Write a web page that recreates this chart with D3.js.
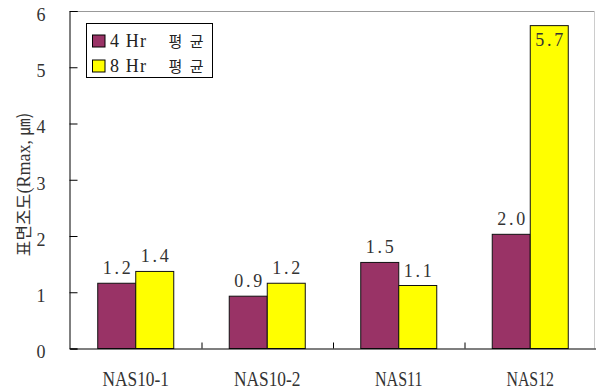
<!DOCTYPE html>
<html>
<head>
<meta charset="utf-8">
<script src="https://cdn.jsdelivr.net/npm/d3@7"></script>
<style>
  html, body { margin: 0; padding: 0; background: #fff; }
  svg { display: block; }
</style>
</head>
<body>
<svg id="chart" width="596" height="390"></svg>
<script>
// Surface roughness by sample, two averaging windows
const categories = ["NAS10-1", "NAS10-2", "NAS11", "NAS12"];
const seriesLabels = ["4 Hr", "8 Hr"];
const seriesSuffix = "평균";
const hr4 = [1.16, 0.93, 1.53, 2.03];
const hr8 = [1.37, 1.16, 1.12, 5.74];
const yTicks = [0, 1, 2, 3, 4, 5, 6];
const colors = ["#993366", "#ffff00"];

const svg = d3.select("#chart");
const m = { left: 70, right: 596, top: 11, bottom: 348.5 };
const serif = "'Liberation Serif', 'DejaVu Serif', serif";
const korean = "'Noto Sans CJK KR', sans-serif";
const charW = 9.5; // fixed advance used for the monospaced-looking labels

const x = d3.scaleBand().domain(categories).range([m.left, m.right]).paddingInner(0).paddingOuter(0);
const inner = d3.scaleBand().domain([0, 1]).range([0, x.bandwidth()]).paddingInner(0).paddingOuter(0.73);
const y = d3.scaleLinear().domain([0, 6]).range([m.bottom, m.top]);

// plot frame (top and right, light gray)
svg.append("line").attr("x1", m.left).attr("x2", m.right - 2).attr("y1", m.top + 0.5).attr("y2", m.top + 0.5)
  .attr("stroke", "#999").attr("stroke-width", 1);
svg.append("line").attr("x1", m.right - 1.5).attr("x2", m.right - 1.5).attr("y1", m.top).attr("y2", m.bottom)
  .attr("stroke", "#ccc").attr("stroke-width", 1);

// bars
const data = [hr4, hr8];
const bars = svg.append("g");
categories.forEach((c, i) => {
  data.forEach((vals, s) => {
    const v = vals[i];
    bars.append("rect")
      .attr("x", x(c) + inner(s))
      .attr("y", y(v))
      .attr("width", inner.bandwidth())
      .attr("height", y(0) - y(v))
      .attr("fill", colors[s])
      .attr("stroke", "#111")
      .attr("stroke-width", 1);
  });
});

// value labels (one decimal)
categories.forEach((c, i) => {
  data.forEach((vals, s) => {
    const v = vals[i];
    const inside = y(v) < m.top + 30;
    const t = v.toFixed(1);
    svg.append("text")
      .attr("x", x(c) + inner(s) + inner.bandwidth() / 2)
      .attr("y", inside ? y(v) + 20 : y(v) - 9)
      .attr("text-anchor", "middle")
      .attr("font-family", serif)
      .attr("font-size", 18)
      .attr("fill", "#333")
      .attr("textLength", t.length * 9.3)
      .attr("lengthAdjust", "spacing")
      .text(t);
  });
});

// y axis
const yAxis = d3.axisLeft(y).tickValues(yTicks).tickSize(-8).tickPadding(24).tickFormat(d3.format("d"));
const ya = svg.append("g").attr("transform", `translate(${m.left - 0.5},0)`).call(yAxis);
ya.select(".domain").attr("stroke", "#000");
ya.selectAll(".tick line").attr("stroke", "#000");
ya.selectAll(".tick text").attr("font-family", serif).attr("font-size", 18).attr("fill", "#333").attr("dy", "0.52em");

// x axis
const xAxis = d3.axisBottom(x).tickSize(0).tickPadding(0);
const xa = svg.append("g").attr("transform", `translate(0,${m.bottom})`).call(xAxis);
xa.select(".domain").attr("stroke", "#000").attr("stroke-width", 1.2);
xa.selectAll(".tick text")
  .attr("y", 37.5).attr("dy", 0)
  .attr("font-family", serif).attr("font-size", 21).attr("fill", "#333")
  .attr("textLength", d => d.length * charW)
  .attr("lengthAdjust", "spacingAndGlyphs");
// separator ticks between categories
xa.selectAll(".sep").data(categories.slice(1)).enter().append("line")
  .attr("class", "sep")
  .attr("x1", d => x(d) + 0.5).attr("x2", d => x(d) + 0.5)
  .attr("y1", 0).attr("y2", -6).attr("stroke", "#000");

// y axis title: Korean part and unit part sized separately
const yt = svg.append("text")
  .attr("transform", "translate(30,184.5) rotate(-90)")
  .attr("text-anchor", "middle")
  .attr("font-family", korean)
  .attr("font-size", 17)
  .attr("fill", "#333");
yt.append("tspan").text("표면조도");
yt.append("tspan").attr("font-family", serif).attr("font-size", 18).text("(Rmax, ");
yt.append("tspan").text("㎛)");

// legend
const lg = svg.append("g").attr("transform", "translate(86.5,23.5)");
lg.append("rect").attr("width", 126).attr("height", 54).attr("fill", "#fff").attr("stroke", "#000");
seriesLabels.forEach((name, i) => {
  const row = lg.append("g").attr("transform", `translate(6,${11.5 + i * 25})`);
  row.append("rect").attr("width", 12.5).attr("height", 12).attr("fill", colors[i]).attr("stroke", "#000");
  row.append("text").attr("x", 17.5).attr("y", 12)
    .attr("font-family", serif).attr("font-size", 18).attr("fill", "#222")
    .attr("textLength", 36).attr("lengthAdjust", "spacing")
    .text(name);
  row.append("text").attr("x", 76).attr("y", 12)
    .attr("font-family", korean).attr("font-size", 15).attr("fill", "#222")
    .attr("textLength", 35).attr("lengthAdjust", "spacing")
    .text(seriesSuffix);
});
</script>
</body>
</html>
